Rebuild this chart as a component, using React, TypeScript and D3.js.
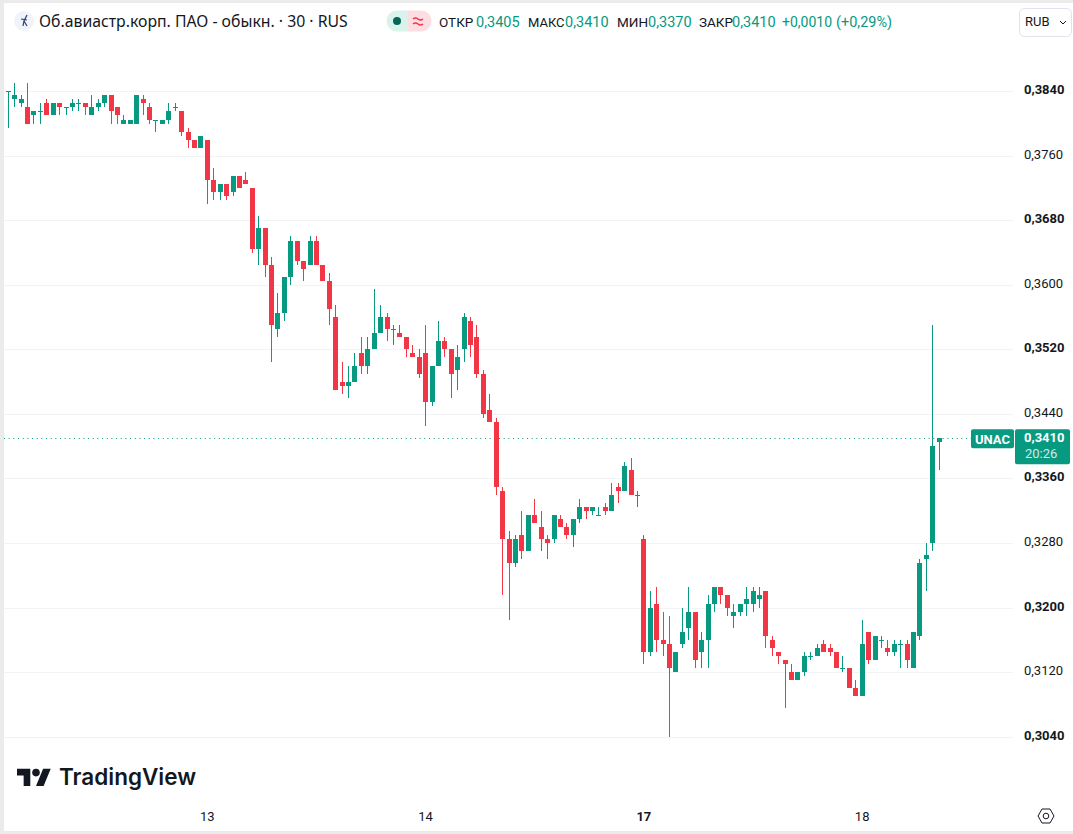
import React, { useEffect, useRef } from "react";
import * as d3 from "d3";

// half-hour candles
const opens = [0.3840,0.3830,0.3825,0.3820,0.3810,0.3815,0.3825,0.3810,0.3825,0.3820,0.3820,0.3825,0.3825,0.3810,0.3820,0.3825,0.3835,0.3820,0.3800,0.3800,0.3800,0.3830,0.3820,0.3805,0.3800,0.3805,0.3820,0.3815,0.3790,0.3780,0.3770,0.3780,0.3730,0.3715,0.3725,0.3715,0.3735,0.3730,0.3720,0.3645,0.3670,0.3625,0.3545,0.3565,0.3610,0.3655,0.3630,0.3625,0.3655,0.3625,0.3605,0.3560,0.3480,0.3475,0.3480,0.3515,0.3500,0.3520,0.3540,0.3560,0.3545,0.3540,0.3535,0.3515,0.3510,0.3515,0.3455,0.3500,0.3530,0.3520,0.3495,0.3520,0.3555,0.3535,0.3490,0.3445,0.3430,0.3345,0.3285,0.3255,0.3290,0.3270,0.3315,0.3300,0.3285,0.3285,0.3310,0.3300,0.3290,0.3310,0.3325,0.3320,0.3315,0.3325,0.3320,0.3350,0.3345,0.3370,0.3340,0.3285,0.3145,0.3205,0.3160,0.3155,0.3120,0.3155,0.3175,0.3195,0.3145,0.3160,0.3205,0.3225,0.3215,0.3190,0.3195,0.3205,0.3205,0.3210,0.3220,0.3160,0.3145,0.3135,0.3120,0.3110,0.3120,0.3140,0.3140,0.3155,0.3150,0.3145,0.3125,0.3125,0.3100,0.3090,0.3170,0.3135,0.3160,0.3150,0.3145,0.3155,0.3155,0.3125,0.3165,0.3260,0.3280,0.3405];
const highs = [0.3840,0.3850,0.3835,0.3850,0.3815,0.3825,0.3830,0.3825,0.3825,0.3820,0.3830,0.3830,0.3825,0.3835,0.3830,0.3835,0.3835,0.3820,0.3810,0.3805,0.3835,0.3835,0.3825,0.3805,0.3805,0.3825,0.3825,0.3815,0.3795,0.3780,0.3785,0.3780,0.3745,0.3725,0.3725,0.3735,0.3735,0.3740,0.3720,0.3685,0.3670,0.3635,0.3590,0.3610,0.3660,0.3655,0.3630,0.3660,0.3660,0.3625,0.3615,0.3575,0.3505,0.3500,0.3515,0.3535,0.3535,0.3595,0.3575,0.3565,0.3550,0.3550,0.3535,0.3525,0.3520,0.3550,0.3500,0.3555,0.3535,0.3520,0.3525,0.3565,0.3560,0.3550,0.3495,0.3465,0.3435,0.3350,0.3295,0.3290,0.3320,0.3315,0.3335,0.3320,0.3290,0.3315,0.3315,0.3305,0.3310,0.3335,0.3325,0.3325,0.3325,0.3330,0.3355,0.3355,0.3380,0.3385,0.3345,0.3290,0.3220,0.3225,0.3195,0.3190,0.3145,0.3200,0.3225,0.3195,0.3170,0.3215,0.3225,0.3225,0.3215,0.3205,0.3205,0.3225,0.3225,0.3225,0.3220,0.3165,0.3145,0.3135,0.3130,0.3120,0.3145,0.3145,0.3155,0.3160,0.3155,0.3145,0.3140,0.3125,0.3110,0.3185,0.3170,0.3165,0.3165,0.3160,0.3160,0.3160,0.3160,0.3170,0.3260,0.3280,0.3550,0.3410];
const lows = [0.3795,0.3820,0.3820,0.3800,0.3800,0.3800,0.3810,0.3810,0.3810,0.3810,0.3815,0.3815,0.3810,0.3810,0.3815,0.3820,0.3800,0.3800,0.3800,0.3800,0.3800,0.3810,0.3800,0.3790,0.3800,0.3800,0.3815,0.3785,0.3770,0.3770,0.3770,0.3700,0.3705,0.3705,0.3705,0.3710,0.3720,0.3725,0.3640,0.3625,0.3610,0.3505,0.3535,0.3555,0.3600,0.3625,0.3605,0.3625,0.3625,0.3605,0.3550,0.3470,0.3465,0.3460,0.3480,0.3490,0.3490,0.3520,0.3540,0.3530,0.3525,0.3535,0.3510,0.3510,0.3485,0.3425,0.3450,0.3500,0.3510,0.3460,0.3470,0.3505,0.3510,0.3485,0.3435,0.3430,0.3340,0.3215,0.3185,0.3250,0.3260,0.3270,0.3305,0.3270,0.3260,0.3280,0.3300,0.3285,0.3275,0.3305,0.3310,0.3315,0.3315,0.3315,0.3320,0.3330,0.3345,0.3340,0.3325,0.3130,0.3140,0.3145,0.3140,0.3040,0.3120,0.3150,0.3160,0.3125,0.3125,0.3125,0.3195,0.3205,0.3190,0.3175,0.3190,0.3190,0.3195,0.3200,0.3150,0.3140,0.3130,0.3075,0.3110,0.3110,0.3115,0.3135,0.3140,0.3145,0.3140,0.3125,0.3120,0.3100,0.3090,0.3090,0.3130,0.3135,0.3150,0.3140,0.3140,0.3125,0.3125,0.3125,0.3160,0.3220,0.3270,0.3370];
const closes = [0.3840,0.3835,0.3830,0.3800,0.3815,0.3815,0.3810,0.3825,0.3820,0.3820,0.3825,0.3825,0.3820,0.3820,0.3825,0.3835,0.3815,0.3810,0.3805,0.3805,0.3835,0.3825,0.3805,0.3805,0.3805,0.3815,0.3820,0.3790,0.3780,0.3770,0.3785,0.3730,0.3715,0.3725,0.3710,0.3735,0.3720,0.3725,0.3645,0.3670,0.3625,0.3550,0.3565,0.3610,0.3655,0.3630,0.3620,0.3655,0.3625,0.3605,0.3570,0.3470,0.3475,0.3480,0.3500,0.3500,0.3520,0.3540,0.3560,0.3545,0.3545,0.3535,0.3520,0.3510,0.3490,0.3455,0.3500,0.3530,0.3520,0.3490,0.3510,0.3560,0.3525,0.3490,0.3440,0.3430,0.3350,0.3285,0.3255,0.3285,0.3270,0.3315,0.3305,0.3285,0.3280,0.3315,0.3300,0.3290,0.3310,0.3325,0.3320,0.3325,0.3315,0.3320,0.3340,0.3345,0.3375,0.3340,0.3340,0.3145,0.3200,0.3160,0.3155,0.3125,0.3145,0.3170,0.3195,0.3135,0.3160,0.3205,0.3225,0.3215,0.3200,0.3195,0.3205,0.3210,0.3220,0.3215,0.3165,0.3150,0.3140,0.3130,0.3110,0.3120,0.3140,0.3140,0.3150,0.3145,0.3145,0.3125,0.3125,0.3100,0.3090,0.3155,0.3135,0.3165,0.3160,0.3145,0.3155,0.3155,0.3135,0.3170,0.3255,0.3265,0.3400,0.3410];

const priceTicks = [0.384,0.376,0.368,0.36,0.352,0.344,0.336,0.328,0.32,0.312,0.304];
const boldPrices = [0.384,0.368,0.352,0.336,0.32,0.304];
const dayIndex = [31, 65, 99, 133];
const dayLabels = ["13", "14", "17", "18"];
const lastPrice = 0.341;

const UP = "#089981";
const DOWN = "#f23645";
const INK = "#131722";
const FONT = "Roboto, sans-serif";

const fmt = (v: number) => v.toFixed(4).replace(".", ",");

const App: React.FC = () => {
  const svgRef = useRef<SVGSVGElement>(null);

  useEffect(() => {
    const svg = d3.select(svgRef.current);
    svg.selectAll("*").remove();

    const x = d3.scaleLinear().domain([0, opens.length - 1]).range([8.3, 939.2]);
    const y = d3.scaleLinear().domain([0.304, 0.384]).range([736.6, 91.3]);

    // window frame
    svg.append("rect").attr("width", 1073).attr("height", 834).attr("fill", "#ebebeb");
    svg.append("rect").attr("x", 4).attr("y", 3).attr("width", 1069).attr("height", 828).attr("fill", "#fff");

    // grid
    svg.append("g").selectAll("line").data(priceTicks).join("line")
      .attr("x1", 4).attr("x2", 1013)
      .attr("y1", (d) => Math.round(y(d)) + 0.5).attr("y2", (d) => Math.round(y(d)) + 0.5)
      .attr("stroke", "#f2f3f6");

    // last price line
    svg.append("line")
      .attr("x1", 4).attr("x2", 971)
      .attr("y1", Math.floor(y(lastPrice)) + 0.5).attr("y2", Math.floor(y(lastPrice)) + 0.5)
      .attr("stroke", UP).attr("stroke-dasharray", "1 3.67");

    // candles
    const candles = svg.append("g").selectAll("g").data(opens.map((_, i) => i)).join("g")
      .attr("fill", (i) => (closes[i] >= opens[i] ? UP : DOWN));
    candles.append("rect")
      .attr("x", (i) => Math.floor(x(i)))
      .attr("width", 1)
      .attr("y", (i) => Math.round(y(highs[i])))
      .attr("height", (i) => Math.round(y(lows[i])) - Math.round(y(highs[i])));
    candles.append("rect")
      .attr("x", (i) => Math.floor(x(i)) - 2)
      .attr("width", 5)
      .attr("y", (i) => Math.round(y(Math.max(opens[i], closes[i]))))
      .attr("height", (i) =>
        Math.max(1, Math.round(y(Math.min(opens[i], closes[i]))) - Math.round(y(Math.max(opens[i], closes[i]))))
      );

    // price axis
    svg.append("g").selectAll("text").data(priceTicks).join("text")
      .attr("x", 1024).attr("y", (d) => y(d) + 3)
      .attr("font-family", FONT).attr("font-size", 13)
      .attr("font-weight", (d) => (boldPrices.includes(d) ? 700 : 400))
      .attr("fill", INK)
      .text((d) => fmt(d));

    // time axis
    svg.append("g").selectAll("text").data(dayIndex).join("text")
      .attr("x", (d) => x(d)).attr("y", 821).attr("text-anchor", "middle")
      .attr("font-family", FONT).attr("font-size", 13)
      .attr("font-weight", (_, i) => (dayLabels[i] === "17" ? 700 : 400))
      .attr("fill", INK)
      .text((_, i) => dayLabels[i]);

    // last price tags
    const py = y(lastPrice);
    svg.append("rect").attr("x", 971).attr("y", py - 9).attr("width", 43).attr("height", 19).attr("rx", 2).attr("fill", UP);
    svg.append("rect").attr("x", 1015).attr("y", py - 9).attr("width", 55).attr("height", 35).attr("rx", 2).attr("fill", UP);
    svg.append("text").attr("x", 975).attr("y", py + 6).attr("font-family", FONT).attr("font-size", 13).attr("font-weight", 700).attr("fill", "#fff").text("UNAC");
    svg.append("text").attr("x", 1024).attr("y", py + 4).attr("font-family", FONT).attr("font-size", 13).attr("font-weight", 700).attr("fill", "#fff").text(fmt(lastPrice));
    svg.append("text").attr("x", 1025).attr("y", py + 20).attr("font-family", FONT).attr("font-size", 13).attr("fill", "#fff").attr("opacity", 0.8).text("20:26");

    // header
    svg.append("circle").attr("cx", 24).attr("cy", 21).attr("r", 10).attr("fill", "#f0f3fa");
    svg.append("path").attr("d", "M27 15l-3 6-1 5M21 19l6 1M24 21l3 5").attr("fill", "none").attr("stroke", "#2a3f6d").attr("stroke-width", 1.2);
    svg.append("text").attr("x", 39).attr("y", 27).attr("font-family", "'Noto Sans', sans-serif").attr("font-size", 15.8).attr("fill", INK)
      .text("Об.авиастр.корп. ПАО - обыкн. · 30 · RUS");

    svg.append("path").attr("d", "M397 10.5h11v21h-11a10.5 10.5 0 0 1 0-21z").attr("fill", "#daf2ec");
    svg.append("path").attr("d", "M408 10.5h13a10.500 10.500 0 0 1 0 21h-13z").attr("fill", "#fcdde2");
    svg.append("circle").attr("cx", 397).attr("cy", 21).attr("r", 4).attr("fill", "#056656");
    svg.append("path").attr("d", "M413 19q2.500-2 5 0t5 0M413 24q2.500-2 5 0t5 0").attr("fill", "none").attr("stroke", DOWN).attr("stroke-width", 1.6);

    const legend: [number, string, string, number][] = [
      [439, "ОТКР", INK, 13.5], [476, "0,3405", UP, 14.5],
      [528, "МАКС", INK, 13], [565, "0,3410", UP, 14.5],
      [617, "МИН", INK, 13.5], [648, "0,3370", UP, 14.5],
      [699, "ЗАКР", INK, 13.5], [732, "0,3410", UP, 14.5],
      [782, "+0,0010", UP, 14], [836, "(+0,29%)", UP, 14.5],
    ];
    svg.append("g").selectAll("text").data(legend).join("text")
      .attr("x", (d) => d[0]).attr("y", 27)
      .attr("font-family", FONT).attr("font-size", (d) => d[3])
      .attr("fill", (d) => d[2])
      .text((d) => d[1]);

    // currency button
    svg.append("rect").attr("x", 1019.5).attr("y", 8.5).attr("width", 52).attr("height", 28).attr("rx", 5).attr("fill", "#fff").attr("stroke", "#e0e3eb");
    svg.append("text").attr("x", 1025).attr("y", 26).attr("font-family", FONT).attr("font-size", 13).attr("fill", INK).text("RUB");
    svg.append("path").attr("d", "M1060 21l3 3 3-3").attr("fill", "none").attr("stroke", INK);

    // logo
    const logo = svg.append("g").attr("transform", "translate(17,765) scale(0.95)").attr("fill", INK);
    logo.append("path").attr("d", "M14 22H7V11H0V4h14v18zM28 22h-8l7.500-18h8L28 22z");
    logo.append("circle").attr("cx", 20).attr("cy", 8).attr("r", 4);
    svg.append("text").attr("x", 59).attr("y", 785).attr("font-family", "Inter, sans-serif").attr("font-size", 22.5).attr("font-weight", 600).attr("fill", INK).text("TradingView");

    // settings
    svg.append("path").attr("d", "M1042 809h8l4 7-4 7h-8l-4-7z").attr("fill", "none").attr("stroke", INK);
    svg.append("circle").attr("cx", 1046).attr("cy", 816).attr("r", 2.8).attr("fill", "none").attr("stroke", INK);
  }, []);

  return <svg ref={svgRef} width={1073} height={834} style={{ position: "absolute", left: 0, top: 0 }} />;
};

export default App;
